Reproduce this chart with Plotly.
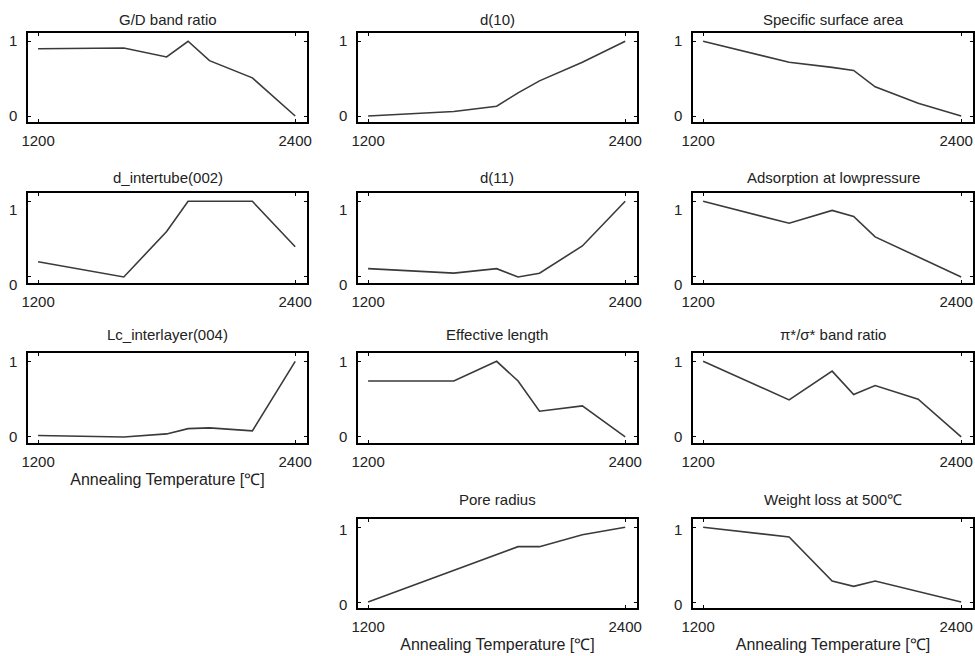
import plotly.graph_objects as go

temps = [1200, 1600, 1800, 1900, 2000, 2200, 2400]

titles = [
    "G/D band ratio", "d(10)", "Specific surface area",
    "d_intertube(002)", "d(11)", "Adsorption at lowpressure",
    "Lc_interlayer(004)", "Effective length", "π*/σ* band ratio",
    None, "Pore radius", "Weight loss at 500℃",
]

gd_band_ratio = [0.90, 0.91, 0.79, 1.00, 0.74, 0.51, 0.00]
d10 = [0.00, 0.06, 0.13, 0.31, 0.47, 0.72, 1.00]
specific_surface_area = [1.00, 0.72, 0.65, 0.61, 0.39, 0.17, 0.00]
d_intertube_002 = [0.20, 0.00, 0.60, 1.00, 1.00, 1.00, 0.40]
d11 = [0.11, 0.05, 0.11, 0.00, 0.05, 0.41, 1.00]
adsorption_low_pressure = [1.00, 0.71, 0.88, 0.80, 0.53, 0.26, 0.00]
lc_interlayer_004 = [0.02, 0.00, 0.04, 0.11, 0.12, 0.08, 1.00]
effective_length = [0.74, 0.74, 1.00, 0.74, 0.34, 0.41, 0.00]
pi_sigma_band_ratio = [1.00, 0.49, 0.87, 0.56, 0.68, 0.50, 0.00]
pore_radius = [0.00, 0.42, 0.63, 0.74, 0.74, 0.90, 1.00]
weight_loss_500 = [1.00, 0.87, 0.28, 0.21, 0.28, 0.14, 0.00]

series = [
    gd_band_ratio, d10, specific_surface_area,
    d_intertube_002, d11, adsorption_low_pressure,
    lc_interlayer_004, effective_length, pi_sigma_band_ratio,
    None, pore_radius, weight_loss_500,
]

x_ticks = [1200, 2400]
y_ticks = [0, 1]
x_title = "Annealing Temperature [℃]"

W, H = 975, 656
col_px = [(28, 307), (358, 637), (693, 973)]
row_px = [(33, 122), (193, 283), (353, 443), (519, 608)]
title_gap = [3, 5, 8, 9]
ylabel_shift = [0, 8, 0, 3]
x_title_panels = {6, 10, 11}
FONT = "Liberation Sans, Arial, sans-serif"

fig = go.Figure()
font_ticks = dict(family=FONT, size=15, color="#222")
ax_n = 0
for i, (t, ys) in enumerate(zip(titles, series)):
    if ys is None:
        continue
    r, c = divmod(i, 3)
    ax_n += 1
    suffix = "" if ax_n == 1 else str(ax_n)
    x0, x1 = col_px[c]
    y0, y1 = row_px[r]
    xd = [x0 / W, min(x1 / W, 1.0)]
    yd = [1 - y1 / H, 1 - y0 / H]
    fig.add_trace(go.Scatter(
        x=temps, y=ys, mode="lines",
        line=dict(color="#3a3a3a", width=1.6),
        xaxis="x" + suffix, yaxis="y" + suffix, showlegend=False,
        hoverinfo="skip",
    ))
    common = dict(showline=True, linecolor="black", linewidth=1.5, mirror="ticks",
                  ticks="inside", ticklen=3, tickwidth=1, tickcolor="black",
                  showgrid=False, zeroline=False, tickfont=font_ticks,
                  automargin=False)
    xa = dict(domain=xd, range=[1153, 2455], tickvals=x_ticks,
              ticktext=[str(v) for v in x_ticks], anchor="y" + suffix,
              ticklabelstandoff=4, **common)
    if c == 2:
        xa["ticklabelshift"] = -5
    if i in x_title_panels:
        xa["title"] = dict(text=x_title, font=dict(family=FONT, size=16, color="#222"),
                           standoff=5)
    ya = dict(domain=yd, range=[-0.08, 1.11], tickvals=y_ticks,
              ticktext=[str(v) for v in y_ticks], anchor="x" + suffix,
              ticklabelstandoff=6, ticklabelshift=ylabel_shift[r], **common)
    fig.layout["xaxis" + suffix] = xa
    fig.layout["yaxis" + suffix] = ya
    fig.add_annotation(text=t, x=(xd[0] + xd[1]) / 2, y=yd[1], xref="paper", yref="paper",
                       xanchor="center", yanchor="bottom", yshift=title_gap[r], showarrow=False,
                       font=dict(family=FONT, size=15, color="#222"))

fig.update_layout(width=W, height=H, margin=dict(l=0, r=0, t=0, b=0),
                  plot_bgcolor="white", paper_bgcolor="white")
fig.write_html("out.html", config={"displayModeBar": False},
               post_script="document.body.style.margin='0';")
